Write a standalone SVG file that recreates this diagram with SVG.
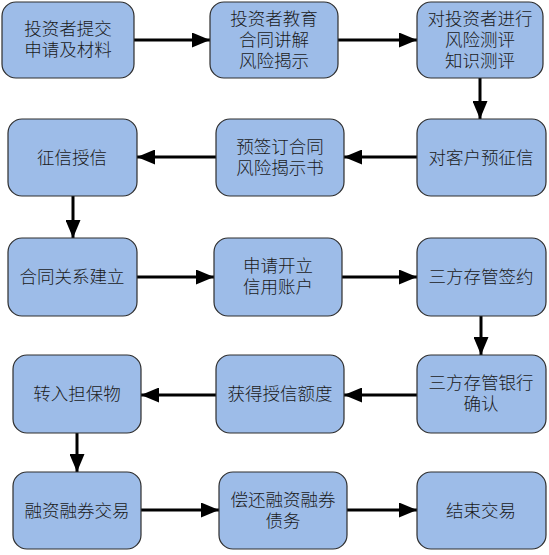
<svg xmlns="http://www.w3.org/2000/svg" width="549" height="555" viewBox="0 0 549 555">
<style>
.box{fill:#9dbce8;stroke:#2e2e2e;stroke-width:1.2}
.t{font-family:"Noto Sans CJK SC","DejaVu Sans",sans-serif;font-size:17.5px;font-weight:300;fill:#1a1a1a;text-anchor:middle}
.c{stroke:#000;stroke-width:3;fill:none;marker-end:url(#ah)}
</style>
<defs>
<marker id="ah" markerWidth="6" markerHeight="5" refX="6" refY="2.5" orient="auto" markerUnits="strokeWidth">
<path d="M0,0 L6,2.5 L0,5 Z" fill="#000"/>
</marker>
</defs>
<rect width="549" height="555" fill="#fff"/>
<g id="connectors">
<path class="c" d="M134,40 H210"/>
<path class="c" d="M338,40 H417"/>
<path class="c" d="M480,78 V119"/>
<path class="c" d="M417,157 H344"/>
<path class="c" d="M216,157 H137"/>
<path class="c" d="M73,196 V238"/>
<path class="c" d="M137,277 H214"/>
<path class="c" d="M342,277 H417"/>
<path class="c" d="M481,316 V355"/>
<path class="c" d="M417,395 H344"/>
<path class="c" d="M216,395 H141"/>
<path class="c" d="M77,433 V472"/>
<path class="c" d="M141,510 H219"/>
<path class="c" d="M347,510 H417"/>
</g>
<g id="n1"><rect class="box" x="2" y="2" width="132" height="76" rx="14"/><text class="t" x="68" y="35">投资者提交</text><text class="t" x="68" y="56">申请及材料</text></g>
<g id="n2"><rect class="box" x="210" y="2" width="128" height="76" rx="14"/><text class="t" x="274" y="25">投资者教育</text><text class="t" x="274" y="46">合同讲解</text><text class="t" x="274" y="67">风险揭示</text></g>
<g id="n3"><rect class="box" x="417" y="2" width="126" height="76" rx="14"/><text class="t" x="480" y="25">对投资者进行</text><text class="t" x="480" y="46">风险测评</text><text class="t" x="480" y="67">知识测评</text></g>
<g id="n4"><rect class="box" x="8" y="119" width="129" height="77" rx="14"/><text class="t" x="72" y="164">征信授信</text></g>
<g id="n5"><rect class="box" x="216" y="119" width="128" height="77" rx="14"/><text class="t" x="280" y="153">预签订合同</text><text class="t" x="280" y="174">风险揭示书</text></g>
<g id="n6"><rect class="box" x="417" y="119" width="129" height="77" rx="14"/><text class="t" x="481" y="164">对客户预征信</text></g>
<g id="n7"><rect class="box" x="8" y="238" width="129" height="78" rx="14"/><text class="t" x="72" y="283">合同关系建立</text></g>
<g id="n8"><rect class="box" x="214" y="238" width="128" height="78" rx="14"/><text class="t" x="278" y="272">申请开立</text><text class="t" x="278" y="293">信用账户</text></g>
<g id="n9"><rect class="box" x="417" y="238" width="129" height="78" rx="14"/><text class="t" x="481" y="283">三方存管签约</text></g>
<g id="n10"><rect class="box" x="13" y="355" width="128" height="78" rx="14"/><text class="t" x="77" y="400">转入担保物</text></g>
<g id="n11"><rect class="box" x="216" y="355" width="128" height="78" rx="14"/><text class="t" x="280" y="400">获得授信额度</text></g>
<g id="n12"><rect class="box" x="417" y="355" width="129" height="78" rx="14"/><text class="t" x="481" y="389">三方存管银行</text><text class="t" x="481" y="410">确认</text></g>
<g id="n13"><rect class="box" x="13" y="472" width="128" height="77" rx="14"/><text class="t" x="77" y="517">融资融券交易</text></g>
<g id="n14"><rect class="box" x="219" y="472" width="128" height="77" rx="14"/><text class="t" x="283" y="506">偿还融资融券</text><text class="t" x="283" y="527">债务</text></g>
<g id="n15"><rect class="box" x="417" y="472" width="129" height="77" rx="14"/><text class="t" x="481" y="517">结束交易</text></g>
</svg>
